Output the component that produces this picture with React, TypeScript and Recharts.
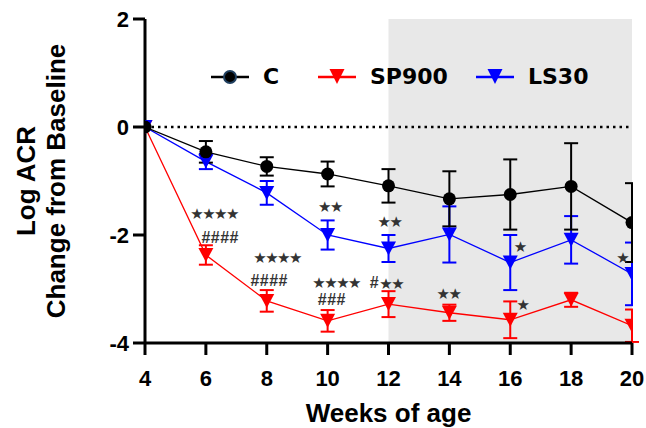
import {
  ComposedChart,
  ErrorBar,
  Line,
  ReferenceArea,
  ReferenceLine,
  Scatter,
  XAxis,
  YAxis,
} from "recharts"

const weeks = [4, 6, 8, 10, 12, 14, 16, 18, 20]

const cMean = [0, -0.46, -0.73, -0.87, -1.09, -1.33, -1.25, -1.1, -1.77]
const cSem = [0, 0.2, 0.17, 0.23, 0.31, 0.51, 0.65, 0.8, 0.73]

const sp900Mean = [0, -2.37, -3.22, -3.59, -3.28, -3.44, -3.57, -3.2, -3.68]
const sp900Sem = [0, 0.18, 0.2, 0.2, 0.24, 0.15, 0.34, 0.13, 0.3]

const ls30Mean = [0, -0.64, -1.22, -2.0, -2.25, -1.99, -2.51, -2.09, -2.72]
const ls30Sem = [0, 0.14, 0.22, 0.27, 0.25, 0.52, 0.51, 0.44, 0.58]

// significance marks, placed in data units
const markWeeks = [6.27, 6.47, 8.34, 8.08, 10.08, 10.28, 10.14, 11.54, 12.03, 12.09, 13.97, 16.31, 16.4, 19.68]
const markValues = [-1.61, -2.04, -2.42, -2.85, -1.49, -2.88, -3.2, -2.88, -1.75, -2.91, -3.09, -2.23, -3.3, -2.43]
const markTexts = ["****", "####", "****", "####", "**", "****", "###", "#", "**", "**", "**", "*", "*", "*"]

const xTicks = [4, 6, 8, 10, 12, 14, 16, 18, 20]
const yTicks = [-4, -2, 0, 2]

const series = [
  { name: "C", color: "#000000", mean: cMean, sem: cSem, marker: "circle" },
  { name: "SP900", color: "#ff0000", mean: sp900Mean, sem: sp900Sem, marker: "triangle" },
  { name: "LS30", color: "#0000ff", mean: ls30Mean, sem: ls30Sem, marker: "triangle" },
]

const toRows = (mean: number[], sem: number[]) =>
  weeks.map((w, i) => ({ week: w, value: mean[i], err: sem[i] }))

const marks = markWeeks.map((w, i) => ({ week: w, mark: markValues[i], text: markTexts[i] }))

const FONT = "'Liberation Sans', Arial, sans-serif"

function Marker({ cx, cy, color, kind }: any) {
  if (cx == null || cy == null) return null
  if (kind === "circle") return <circle cx={cx} cy={cy} r={6.5} fill={color} />
  return (
    <polygon
      points={`${cx - 7.5},${cy - 7} ${cx + 7.5},${cy - 7} ${cx},${cy + 7}`}
      fill={color}
    />
  )
}

function MarkText(props: any) {
  const { cx, cy, payload } = props
  const stars = payload.text.startsWith("*")
  return (
    <text
      x={cx}
      y={cy}
      textAnchor="middle"
      dominantBaseline="central"
      fill="#333"
      fontFamily={stars ? "'DejaVu Sans', sans-serif" : FONT}
      fontWeight={stars ? 400 : 700}
      fontSize={stars ? 15 : 16}
      letterSpacing={stars ? -1.5 : 0.5}
    >
      {stars ? payload.text.replace(/\*/g, "★") : payload.text}
    </text>
  )
}

function YTitle({ viewBox }: any) {
  const cy = viewBox.y + viewBox.height / 2
  const style = { fontFamily: FONT, fontWeight: 700, fontSize: 26, fill: "#000" }
  return (
    <g>
      <text x={35} y={cy} textAnchor="middle" transform={`rotate(-90, 35, ${cy})`} style={style}>
        Log ACR
      </text>
      <text x={65} y={cy} textAnchor="middle" transform={`rotate(-90, 65, ${cy})`} style={style}>
        Change from Baseline
      </text>
    </g>
  )
}

function LegendIcon({ color, kind }: { color: string; kind: string }) {
  return (
    <svg width={38} height={20} style={{ display: "block" }}>
      <line x1={0} y1={10} x2={38} y2={10} stroke={color} strokeWidth={2.5} />
      {kind === "circle" ? (
        <circle cx={19} cy={10} r={6} fill="#000" stroke="#1f3f5f" strokeWidth={2} />
      ) : (
        <polygon points="11.5,2 26.5,2 19,17" fill={color} />
      )}
    </svg>
  )
}

const legendLeft = [211, 318, 476]

export default function App() {
  return (
    <div style={{ position: "absolute", left: 0, top: 0, width: 646, height: 428, background: "#fff" }}>
      <ComposedChart width={646} height={428} margin={{ top: 19, right: 14, left: 0, bottom: 0 }}>
        <ReferenceArea x1={12} x2={20} y1={-4} y2={2} fill="#e8e8e8" fillOpacity={1} stroke="none" />
        <ReferenceLine y={0} stroke="#000" strokeWidth={2.5} strokeDasharray="2.5 4" />
        <XAxis
          type="number"
          dataKey="week"
          domain={[4, 20]}
          ticks={xTicks}
          allowDataOverflow
          height={85}
          tickSize={12}
          tickMargin={15}
          axisLine={{ stroke: "#000", strokeWidth: 3 }}
          tickLine={{ stroke: "#000", strokeWidth: 3 }}
          tick={{ fill: "#000", fontSize: 22, fontWeight: 700, fontFamily: FONT }}
          label={{
            value: "Weeks of age",
            position: "insideBottom",
            offset: 6,
            style: { fill: "#000", fontSize: 26, fontWeight: 700, fontFamily: FONT },
          }}
        />
        <YAxis
          type="number"
          domain={[-4, 2]}
          ticks={yTicks}
          allowDataOverflow
          width={145}
          tickSize={12}
          tickMargin={4}
          axisLine={{ stroke: "#000", strokeWidth: 3 }}
          tickLine={{ stroke: "#000", strokeWidth: 3 }}
          tick={{ fill: "#000", fontSize: 22, fontWeight: 700, fontFamily: FONT }}
          label={<YTitle />}
        />
        {[series[1], series[2], series[0]].map((s) => (
          <Line
            key={s.name}
            name={s.name}
            data={toRows(s.mean, s.sem)}
            dataKey="value"
            stroke={s.color}
            strokeWidth={1.3}
            isAnimationActive={false}
            dot={(p: any) => <Marker key={p.index} cx={p.cx} cy={p.cy} color={s.color} kind={s.marker} />}
            activeDot={false}
          >
            <ErrorBar dataKey="err" direction="y" width={7} stroke={s.color} strokeWidth={2} />
          </Line>
        ))}
        <Scatter data={marks} dataKey="mark" shape={<MarkText />} isAnimationActive={false} />
      </ComposedChart>
      {/* the original cuts everything at the right edge of the plot */}
      <div style={{ position: "absolute", left: 633, top: 0, width: 13, height: 341, background: "#fff" }} />
      {series.map((s, i) => (
        <div
          key={s.name}
          style={{
            position: "absolute",
            left: legendLeft[i],
            top: 66,
            display: "flex",
            alignItems: "center",
            gap: 14,
            fontFamily: "'DejaVu Sans', sans-serif",
            fontWeight: 700,
            fontSize: 22,
            lineHeight: "22px",
            color: "#000",
          }}
        >
          <LegendIcon color={s.color} kind={s.marker} />
          <span>{s.name}</span>
        </div>
      ))}
    </div>
  )
}
